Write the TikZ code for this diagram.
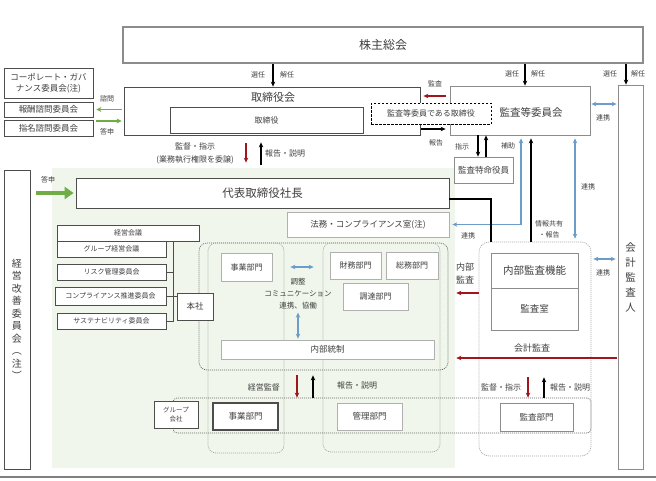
\documentclass[tikz,border=0pt]{standalone}
\usepackage{fontspec}
\setmainfont{Noto Sans CJK JP}
\usetikzlibrary{arrows.meta}
\definecolor{txtgray}{HTML}{3F3F3F}
\definecolor{boxgray}{HTML}{8C8C8C}
\definecolor{boxdark}{HTML}{4D4D4D}
\definecolor{boxlight}{HTML}{B0B0B0}
\definecolor{grpgray}{HTML}{A6A6A6}
\definecolor{grpdark}{HTML}{666666}
\definecolor{audred}{HTML}{A0161C}
\definecolor{linkblue}{HTML}{6C9CC8}
\definecolor{advgreen}{HTML}{70AD47}
\definecolor{greenbg}{HTML}{F0F6EB}
\definecolor{bottomgray}{HTML}{808080}

\begin{document}
\begin{tikzpicture}[x=1pt,y=-1pt,
		box/.style={draw=boxgray,fill=white,inner sep=0pt,text=txtgray,line width=0.8pt},
		dkbox/.style={box,draw=boxdark},
		ltbox/.style={box,draw=boxlight},
		lbl/.style={text=txtgray,inner sep=0pt,font=\fontsize{7}{8}\selectfont},
		mid/.style={text=txtgray,inner sep=0pt,font=\fontsize{8}{10}\selectfont},
		grp/.style={draw=grpgray,inner sep=0pt,rounded corners=8pt,dash pattern=on 1pt off 1pt,line width=0.7pt},
		arr/.style={-{Stealth[length=5pt,width=4.5pt]},line width=1.5pt},
		rarr/.style={arr,draw=audred},
		barr/.style={{Stealth[length=5pt,width=4.5pt]}-{Stealth[length=5pt,width=4.5pt]},line width=1.4pt,draw=linkblue},
		garr/.style={-{Stealth[length=5pt,width=5pt]},line width=1.5pt,draw=advgreen}
	]
	\useasboundingbox (0,0) rectangle (656,480);
	\fill[greenbg] (52,168) rectangle (455,468);
	\draw[line width=2pt,bottomgray] (0,477) -- (656,477);

	\node[grp,draw=grpdark,minimum width=249,minimum height=127] (biggrp) at (323.5,306.5) {};
	\node[grp,minimum width=76,minimum height=210] (col1) at (246,348) {};
	\node[grp,minimum width=117,minimum height=209] (col3) at (381.5,347.5) {};
	\node[grp,draw=grpdark,rounded corners=4pt,minimum width=418,minimum height=35] (band) at (382,415.5) {};
	\node[grp,rounded corners=10pt,minimum width=112,minimum height=214] (kansagrp) at (535,349) {};

	\node[box,line width=1.5pt,minimum width=520,minimum height=36,font=\fontsize{12}{14}\selectfont] (kabu) at (383,45) {株主総会};
	\node[dkbox,minimum width=296,minimum height=48] (torikai) at (272,111) {};
	\node[lbl,font=\fontsize{11}{13}\selectfont] (torititle) at (273,97) {取締役会};
	\node[dkbox,minimum width=193,minimum height=26,font=\fontsize{8}{10}\selectfont] (torishimari) at (266.5,120) {取締役};
	\node[box,minimum width=140,minimum height=49] (kansatou) at (520,110.5) {};
	\node[lbl,font=\fontsize{10.5}{12}\selectfont] (kansatoutxt) at (531,112) {監査等委員会};
	\node[box,draw=black,dash pattern=on 2.5pt off 1.5pt,minimum width=120,minimum height=21,font=\fontsize{8}{10}\selectfont] (kansatori) at (431,113.5) {監査等委員である取締役};
	\node[box,minimum width=59,minimum height=26,font=\fontsize{8.5}{10}\selectfont] (tokumei) at (483.5,170) {監査特命役員};
	\node[box,minimum width=25,minimum height=384,align=center,font=\fontsize{10.5}{15}\selectfont] (kaikei) at (630.5,277) {会\\計\\監\\査\\人};
	\node[dkbox,minimum width=26,minimum height=299,align=center,font=\fontsize{10}{12.5}\selectfont] (kaizen) at (17,319.5) {経\\営\\改\\善\\委\\員\\会\\︵\\注\\︶};

	\node[dkbox,minimum width=89,minimum height=30,align=center,font=\fontsize{8.5}{11}\selectfont] (cg) at (48.5,83) {コーポレート・ガバ\\ナンス委員会(注)};
	\node[dkbox,minimum width=89,minimum height=15,font=\fontsize{8.5}{10}\selectfont] (housyu) at (48.5,109.5) {報酬諮問委員会};
	\node[dkbox,minimum width=89,minimum height=16,font=\fontsize{8.5}{10}\selectfont] (shimei) at (48.5,128) {指名諮問委員会};

	\node[dkbox,minimum width=373,minimum height=30,font=\fontsize{11.5}{13}\selectfont] (daihyo) at (262.5,193) {代表取締役社長};
	\node[ltbox,minimum width=162,minimum height=25,font=\fontsize{8.5}{10}\selectfont] (houmu) at (368,224.5) {法務・コンプライアンス室(注)};

	\node[dkbox,minimum width=142,minimum height=16,font=\fontsize{7}{8}\selectfont] (keieikaigi) at (128,233) {経営会議};
	\node[dkbox,minimum width=109,minimum height=16,font=\fontsize{7}{8}\selectfont] (grpkeiei) at (111.5,249) {グループ経営会議};
	\node[dkbox,minimum width=109,minimum height=16,font=\fontsize{7}{8}\selectfont] (risk) at (111.5,272) {リスク管理委員会};
	\node[dkbox,minimum width=111,minimum height=18,font=\fontsize{7}{8}\selectfont] (compl) at (110.5,296) {コンプライアンス推進委員会};
	\node[dkbox,minimum width=109,minimum height=16,font=\fontsize{7}{8}\selectfont] (sustain) at (111.5,321) {サステナビリティ委員会};
	\node[dkbox,minimum width=36,minimum height=27,font=\fontsize{8.5}{10}\selectfont] (honsha) at (195,306.5) {本社};

	\node[ltbox,minimum width=51,minimum height=28,font=\fontsize{8}{10}\selectfont] (jigyo) at (246.5,267) {事業部門};
	\node[ltbox,minimum width=51,minimum height=27,font=\fontsize{8}{10}\selectfont] (zaimu) at (355.5,265.5) {財務部門};
	\node[ltbox,minimum width=52,minimum height=27,font=\fontsize{8}{10}\selectfont] (soumu) at (412,265.5) {総務部門};
	\node[ltbox,minimum width=65,minimum height=27,font=\fontsize{8}{10}\selectfont] (choutatsu) at (375.5,296.5) {調達部門};
	\node[ltbox,minimum width=213,minimum height=19,font=\fontsize{8.5}{10}\selectfont] (naibutousei) at (327.5,349.5) {内部統制};
	\node[lbl,align=center,font=\fontsize{7.5}{12}\selectfont] (chousei) at (298,294) {調整\\コミュニケーション\\連携、協働};

	\node[box,minimum width=87,minimum height=35,font=\fontsize{10.5}{12}\selectfont] (kinou) at (534.5,270.5) {内部監査機能};
	\node[box,minimum width=87,minimum height=42,font=\fontsize{9.5}{11}\selectfont] (kansashitsu) at (534.5,309) {監査室};

	\node[dkbox,minimum width=44,minimum height=27,align=center,font=\fontsize{6.5}{9}\selectfont] (grpkaisha) at (176,414.5) {グループ\\会社};
	\node[dkbox,line width=1.2pt,minimum width=65,minimum height=27,font=\fontsize{8.5}{10}\selectfont] (jigyo2) at (245.5,416.5) {事業部門};
	\node[ltbox,minimum width=65,minimum height=27,font=\fontsize{8.5}{10}\selectfont] (kanri) at (369.5,416.5) {管理部門};
	\node[box,minimum width=73,minimum height=28,font=\fontsize{8.5}{10}\selectfont] (kansabumon) at (536.5,417) {監査部門};

	\draw[arr] (kabu.south -| torititle) -- (torikai.north -| torititle);
	\node[lbl] (sen1) at (258,75) {選任};
	\node[lbl] (kai1) at (287,75) {解任};
	\draw[arr] ([xshift=142pt]kabu.south) -- ([xshift=5pt]kansatou.north);
	\node[lbl] (sen2) at (512,74) {選任};
	\node[lbl] (kai2) at (538,74) {解任};
	\draw[arr] ([xshift=243pt]kabu.south) -- ([xshift=-4.5pt]kaikei.north);
	\node[lbl] (sen3) at (610,74) {選任};
	\node[lbl] (kai3) at (638,74) {解任};

	\draw[garr,shorten <=2pt,shorten >=3pt] (torikai.west |- housyu.east) -- (housyu.east);
	\coordinate (tou) at ([yshift=7pt]shimei.east);
	\draw[garr,shorten <=3pt,shorten >=2pt] (tou) -- (tou -| torikai.west);
	\node[lbl] (shimon) at (107,99) {諮問};
	\node[lbl] (toushin1) at (107,132) {答申};

	\coordinate (ka1) at ([yshift=15pt]torikai.east);
	\draw[rarr,shorten <=4pt,shorten >=3pt] (ka1 -| kansatou.west) -- (ka1);
	\coordinate (ho1) at ([yshift=-18pt]torikai.east);
	\draw[arr,shorten <=1pt,shorten >=4pt] (ho1) -- (ho1 -| kansatou.west);
	\node[lbl] (kansa1) at (435,84) {監査};
	\node[lbl] (houkoku1) at (436,143) {報告};

	\coordinate (si) at ([xshift=-5.5pt]tokumei.north);
	\draw[arr] (si |- kansatou.south) -- (si);
	\coordinate (hj) at ([xshift=2.5pt]tokumei.north);
	\draw[arr] (hj) -- (hj |- kansatou.south);
	\node[lbl] (shiji1) at (462,147) {指示};
	\node[lbl] (hojo) at (508,146) {補助};

	\coordinate (r1) at ([yshift=6.5pt]kansatou.east);
	\draw[barr,shorten <=1pt,shorten >=1pt] (r1) -- (r1 -| kaikei.west);
	\node[lbl] (renkei1) at (603,118) {連携};
	\coordinate (r2) at ([xshift=55pt]kansatou.south);
	\draw[barr,shorten <=3pt,shorten >=3pt] (r2) -- (r2 |- kansagrp.north);
	\node[lbl] (renkei2) at (588,187) {連携};
	\coordinate (r3) at ([xshift=1pt]kansatou.south);
	\draw[barr,shorten <=3pt,shorten >=3pt] (houmu.east) -| (r3);
	\node[lbl] (renkei3) at (468,236) {連携};
	\coordinate (r4) at ([yshift=90pt]kansagrp.east);
	\draw[barr,shorten <=2pt,shorten >=2pt] (r4) -- (r4 -| kaikei.west);
	\node[lbl] (renkei4) at (603,273) {連携};

	\coordinate (jh) at ([xshift=11pt]kansatou.south);
	\draw[arr,shorten >=3pt] (jh |- kansagrp.north) -- (jh);
	\node[lbl,align=center,font=\fontsize{7}{11}\selectfont] (jouhou) at (549,229) {情報共有\\・報告};

	\coordinate (dk) at ([xshift=-44pt]kansagrp.north);
	\draw[line width=1.5pt] ([yshift=-6pt]daihyo.east) -| (dk);

	\coordinate (na) at ([yshift=56pt]kansagrp.west);
	\draw[rarr,shorten >=8pt] (na) -- (na -| biggrp.east);
	\node[lbl,align=center,font=\fontsize{9}{13}\selectfont] (naibukansa) at (465,273) {内部\\監査};
	\coordinate (kk) at ([yshift=-81pt]kaikei.west);
	\draw[rarr,shorten <=1pt,shorten >=8pt] (kk) -- (kk -| biggrp.east);
	\node[lbl,font=\fontsize{9}{10}\selectfont] (kaikeikansa) at (532,348) {会計監査};

	\draw[-{Triangle[length=9pt,width=12pt]},line width=4.5pt,advgreen,shorten <=6pt,shorten >=2pt] (kaizen.east |- daihyo.west) -- (daihyo.west);
	\node[lbl] (toushin2) at (48,180) {答申};

	\coordinate (t1) at ([xshift=-16.5pt]daihyo.north);
	\coordinate (t2) at ([xshift=-1.5pt]daihyo.north);
	\draw[rarr,shorten <=8pt,shorten >=15pt] (t1 |- torikai.south) -- (t1);
	\draw[arr,shorten <=13pt,shorten >=7pt] (t2) -- (t2 |- torikai.south);
	\node[mid,align=center,font=\fontsize{8}{13}\selectfont] (kantoku1) at (195,153.5) {監督・指示\\(業務執行権限を委譲)};
	\node[mid,anchor=west] (setsumei1) at (265,153) {報告・説明};

	\coordinate (bt) at ([xshift=45pt]keieikaigi.south);
	\draw[line width=0.8pt,boxdark] (bt) -- (bt |- sustain.east) -- (sustain.east);
	\draw[line width=0.8pt,boxdark] (risk.east) -- (risk.east -| bt);
	\draw[line width=0.8pt,boxdark] (compl.east) -- (compl.east -| honsha.west);

	\draw[barr,shorten <=18pt,shorten >=16pt] (jigyo.east) -- (jigyo.east -| zaimu.west);
	\draw[barr,shorten <=3pt,shorten >=1pt] (chousei.south) -- (chousei.south |- naibutousei.north);

	\coordinate (m1) at ([xshift=-26.5pt]biggrp.south);
	\coordinate (m2) at ([xshift=-10.5pt]biggrp.south);
	\draw[rarr,shorten <=5pt] (m1) -- (m1 |- band.north);
	\draw[arr,shorten >=5pt] (m2 |- band.north) -- (m2);
	\node[mid,anchor=east] (keieikantoku) at (280,387) {経営監督};
	\node[mid,anchor=west] (setsumei2) at (337,385) {報告・説明};
	\coordinate (a1) at ([xshift=-8.5pt]kansabumon.north);
	\coordinate (a2) at ([xshift=7.5pt]kansabumon.north);
	\draw[rarr,shorten <=7pt] (a1 |- biggrp.south) -- (a1 |- band.north);
	\draw[arr,shorten >=7pt] (a2 |- band.north) -- (a2 |- biggrp.south);
	\node[mid] (kantoku2) at (501,387) {監督・指示};
	\node[mid] (setsumei3) at (570,387) {報告・説明};
\end{tikzpicture}
\end{document}
